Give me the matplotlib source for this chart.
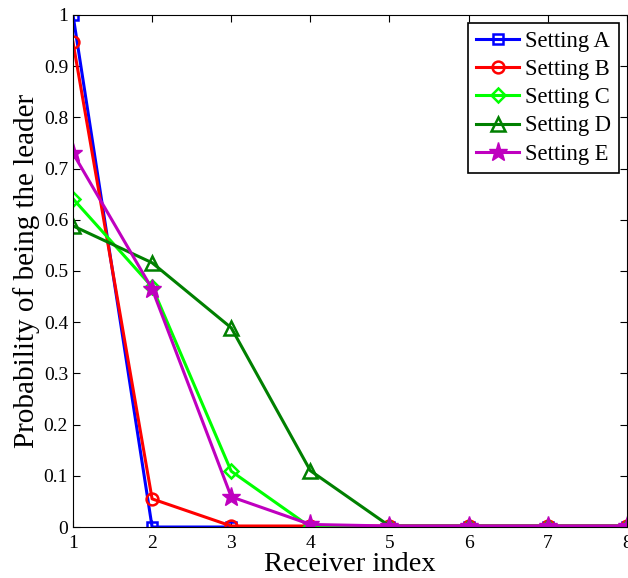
import numpy as np
import matplotlib.pyplot as plt

plt.rcParams['font.family'] = ['Liberation Serif', 'DejaVu Serif']
plt.rcParams['mathtext.fontset'] = 'stix'

# receiver index and probabilities
receiver = [1, 2, 3, 4, 5, 6, 7, 8]
setting_a = [1.0, 0.0, 0.0, 0.0, 0.0, 0.0, 0.0, 0.0]
setting_b = [0.947, 0.055, 0.002, 0.002, 0.002, 0.002, 0.002, 0.002]
setting_c = [0.641, 0.469, 0.109, 0.0, 0.0, 0.0, 0.0, 0.0]
setting_d = [0.588, 0.516, 0.389, 0.11, 0.002, 0.002, 0.002, 0.002]
setting_e = [0.73, 0.465, 0.059, 0.005, 0.002, 0.002, 0.002, 0.002]
labels = ["Setting A", "Setting B", "Setting C", "Setting D", "Setting E"]

fig = plt.figure(figsize=(6.28, 5.78), dpi=100)
ax = fig.add_axes([0.1162, 0.0882, 0.882, 0.886])

ax.plot(receiver, setting_a, color="#0000ff", marker="s", mfc="none", mec="#0000ff",
        ms=7.5, mew=1.8, lw=2.2, label=labels[0])
ax.plot(receiver, setting_b, color="#ff0000", marker="o", mfc="none", mec="#ff0000",
        ms=8.5, mew=1.8, lw=2.2, label=labels[1])
ax.plot(receiver, setting_c, color="#00ff00", marker="D", mfc="none", mec="#00ff00",
        ms=7, mew=1.8, lw=2.2, label=labels[2])
ax.plot(receiver, setting_d, color="#008000", marker="^", mfc="none", mec="#008000",
        ms=10, mew=1.8, lw=2.2, label=labels[3])
ax.plot(receiver, setting_e, color="#bf00bf", marker="*", mfc="#bf00bf", mec="#bf00bf",
        ms=14, mew=1, lw=2.2, label=labels[4])

ax.set_xlim(1, 8)
ax.set_ylim(0, 1)
ax.set_xticks(receiver)
yt = np.round(np.arange(0, 1.01, 0.1), 1)
ax.set_yticks(yt)
ax.set_yticklabels(["0"] + [f"{v:g}" for v in yt[1:]])
ax.tick_params(direction="in", top=True, right=True, labelsize=14, length=5, width=0.8)
ax.tick_params(axis="x", pad=6)
ax.set_xlabel("Receiver index", fontsize=20.5, labelpad=0)
ax.set_ylabel("Probability of being the leader", fontsize=21, labelpad=3)

leg = ax.legend(loc="upper right", fontsize=16.3, fancybox=False, edgecolor="black",
                framealpha=1, borderpad=0.35, labelspacing=0.32, handlelength=1.9,
                handletextpad=0.25, borderaxespad=0.35)
leg.get_frame().set_linewidth(1.2)

fig.savefig("out.png", dpi=100)
